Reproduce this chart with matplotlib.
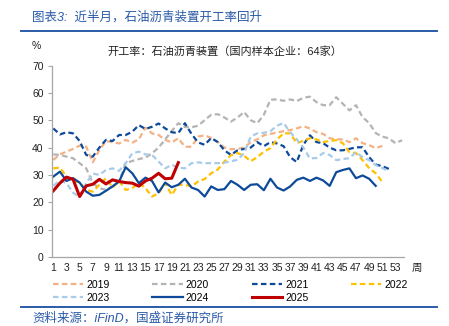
import numpy as np
import matplotlib
matplotlib.use('Agg')
import matplotlib.pyplot as plt
from matplotlib.lines import Line2D

plt.rcParams['font.family'] = ['Liberation Sans', 'Noto Sans CJK SC', 'DejaVu Sans']

# 开工率 (%) 按周读数
y2019 = [35.5, 37.5, 38.5, 39.5, 40.7, 40.3, 34.6, 39.1, 42.4, 42.0,
         41.5, 42.8, 41.8, 43.0, 47.3, 45.2, 44.6, 42.8, 41.9, 43.4,
         40.3, 40.3, 44.0, 44.5, 43.5, 42.0, 40.0, 39.4, 39.5, 40.0,
         42.0, 43.0, 44.5, 45.0, 45.5, 46.0, 46.4, 47.0, 47.8, 47.0,
         45.6, 45.0, 43.4, 43.0, 43.0, 42.0, 43.4, 41.6, 40.9, 39.8,
         40.6]
y2020 = [37.5, 37.3, 36.7, 36.1, 34.3, 32.4, 27.0, 25.2, 24.5, 25.8,
         27.6, 34.3, 35.1, 35.8, 36.3, 37.9, 40.0, 43.0, 46.0, 48.9,
         47.5, 47.4, 48.0, 50.0, 52.0, 52.2, 51.0, 49.5, 51.0, 53.0,
         50.0, 48.9, 52.0, 57.5, 57.6, 57.1, 57.6, 57.0, 58.2, 58.6,
         56.6, 55.5, 55.5, 58.4, 56.0, 53.6, 55.5, 51.1, 49.0, 45.3,
         44.0, 43.4, 41.6, 42.7]
y2021 = [47.0, 44.8, 45.6, 45.2, 42.4, 37.3, 36.7, 40.0, 42.8, 42.4,
         44.6, 44.6, 45.8, 48.2, 46.8, 47.6, 48.8, 47.0, 45.6, 45.3,
         48.9, 45.0, 41.9, 41.0, 43.5, 42.0, 39.0, 37.3, 39.0, 39.5,
         40.0, 42.0, 40.5, 42.0, 41.5, 40.5, 36.5, 34.7, 41.0, 44.5,
         42.0, 41.6, 40.0, 39.0, 39.0, 39.5, 40.1, 40.1, 36.5, 33.8,
         33.2, 32.2]
y2022 = [32.4, 32.7, 29.4, 27.8, 27.3, 24.5, 23.9, 26.4, 28.8, 25.4,
         27.8, 24.5, 25.2, 27.0, 25.2, 22.1, 23.3, 27.0, 22.7, 26.4,
         26.4, 25.8, 27.6, 28.5, 30.6, 32.0, 34.9, 37.2, 38.0, 37.0,
         35.0, 36.5, 38.5, 39.8, 43.0, 45.2, 45.2, 41.6, 42.5, 43.4,
         43.0, 42.0, 42.4, 42.7, 41.6, 38.3, 38.0, 35.4, 32.5, 30.6,
         27.4]
y2023 = [26.0, 28.0, 27.0, 23.5, 22.0, 27.0, 30.5, 30.0, 31.8, 32.4,
         31.5, 34.3, 37.9, 38.5, 37.5, 37.3, 34.9, 32.4, 33.7, 32.7,
         32.4, 34.3, 34.6, 34.3, 34.3, 34.3, 34.5, 35.0, 35.5, 38.0,
         44.0, 45.2, 45.4, 46.0, 48.0, 49.0, 45.6, 43.0, 40.0, 36.0,
         36.2, 38.0, 37.3, 35.4, 35.8, 36.1, 38.3, 36.5, 35.4, 33.6,
         32.5, 31.4]
y2024 = [29.4, 31.2, 27.8, 28.8, 27.2, 23.9, 22.4, 22.7, 24.2, 25.8,
         27.6, 32.8, 30.6, 27.0, 29.0, 27.8, 23.6, 27.2, 25.5, 26.4,
         28.6, 25.4, 24.5, 22.1, 25.8, 24.5, 24.8, 27.8, 26.4, 24.5,
         26.4, 26.6, 24.4, 28.6, 25.4, 24.3, 25.8, 28.2, 29.0, 27.8,
         29.0, 28.0, 26.0, 31.0, 31.8, 32.4, 28.8, 29.8, 28.6, 26.0]
y2025 = [24.2, 27.0, 29.2, 28.4, 22.1, 26.0, 26.6, 28.4, 26.7, 28.2,
         27.6, 27.2, 27.0, 25.9, 27.8, 28.8, 30.6, 28.6, 28.8, 34.5]

years = ['2019', '2020', '2021', '2022', '2023', '2024', '2025']
series = [y2019, y2020, y2021, y2022, y2023, y2024, y2025]
week_ticks = list(range(1, 54, 2))

blue = '#2B5BA8'
styles = {
    '2019': dict(color='#F4B183', ls=(0, (2.5, 1.5)), lw=1.6),
    '2020': dict(color='#B4B4B4', ls=(0, (2.5, 1.5)), lw=1.6),
    '2021': dict(color='#0D4A9A', ls=(0, (2.5, 1.5)), lw=1.6),
    '2022': dict(color='#FFC000', ls=(0, (2.5, 1.5)), lw=1.6),
    '2023': dict(color='#A9CBEA', ls=(0, (2.5, 1.5)), lw=1.6),
    '2024': dict(color='#0D4A9A', ls='-', lw=1.6),
    '2025': dict(color='#C00000', ls='-', lw=2.2),
}

fig = plt.figure(figsize=(4.49, 3.26), dpi=100)
ax = fig.add_axes([52 / 449, 1 - 257 / 326, 352 / 449, 191.5 / 326])

lines = {}
for yr, vals in zip(years, series):
    st = styles[yr]
    x = np.arange(1, len(vals) + 1)
    ln, = ax.plot(x, vals, color=st['color'], linestyle=st['ls'], lw=st['lw'],
                  solid_joinstyle='round', dash_capstyle='butt', label=yr)
    lines[yr] = ln

ax.set_xlim(0.8, 54.3)
ax.set_ylim(0, 70)
ax.set_yticks(range(0, 71, 10))
ax.set_xticks(week_ticks)
ax.set_xticklabels([str(w) for w in week_ticks])
for s in ['top', 'right']:
    ax.spines[s].set_visible(False)
for s in ['left', 'bottom']:
    ax.spines[s].set_color('#A6A6A6')
    ax.spines[s].set_linewidth(0.9)
ax.tick_params(axis='y', direction='out', length=3, color='#A6A6A6',
               labelsize=7.5, labelcolor='#222222', pad=3)
ax.tick_params(axis='x', length=0, labelsize=7.5, labelcolor='#222222', pad=4)

# 标题和注释
fig.text(32 / 449, 1 - 17 / 326, '图表3:  近半月，石油沥青装置开工率回升', color=blue,
         fontsize=9, style='italic', va='center', ha='left')
fig.add_artist(Line2D([21 / 449, 437 / 449], [1 - 31 / 326, 1 - 31 / 326],
                      color=blue, lw=1.4))
fig.text(32 / 449, 1 - 46 / 326, '%', fontsize=7.5, color='#222222', va='center')
fig.text(225 / 449, 1 - 51 / 326, '开工率：石油沥青装置（国内样本企业：64家）',
         fontsize=8, color='#222222', ha='center', va='center')
fig.text(412 / 449, 1 - 268 / 326, '周', fontsize=7.5, color='#222222', va='center')

order = ['2019', '2023', '2020', '2024', '2021', '2025', '2022']
fig.legend([lines[k] for k in order], order, loc='upper left',
           bbox_to_anchor=(53 / 449, 1 - 280 / 326), ncol=4, frameon=False,
           fontsize=7.5, handlelength=2.9, handletextpad=0.3,
           columnspacing=4.1, labelspacing=0.25, borderpad=0, borderaxespad=0)

fig.add_artist(Line2D([21 / 449, 437 / 449], [1 - 307 / 326, 1 - 307 / 326],
                      color=blue, lw=1.4))
fig.text(32 / 449, 1 - 318 / 326, '资料来源：iFinD，国盛证券研究所', color=blue,
         fontsize=9, style='italic', va='center', ha='left')

fig.savefig('out.png', dpi=100)
